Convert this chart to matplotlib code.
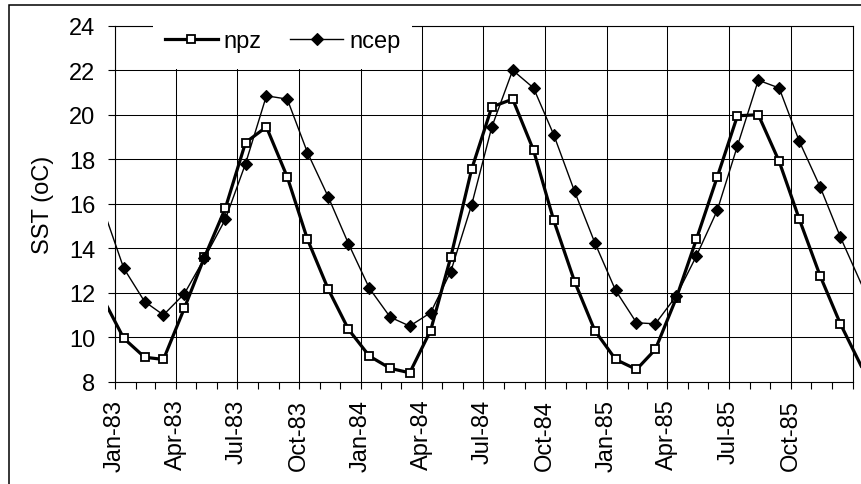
import matplotlib
matplotlib.use("Agg")
import matplotlib.pyplot as plt
import matplotlib.dates as mdates
from matplotlib.patches import Rectangle
from matplotlib.transforms import blended_transform_factory
import pandas as pd

# monthly SST, Dec-82 .. Jan-86 (first and last point fall just outside the axis)
months = pd.date_range("1982-12-01", periods=38, freq="MS") + pd.Timedelta(days=13)

npz = [11.75, 9.95, 9.1, 9.0, 11.3, 13.6, 15.8, 18.75, 19.45, 17.2, 14.4, 12.15, 10.35,
       9.15, 8.6, 8.4, 10.3, 13.6, 17.55, 20.35, 20.7, 18.4, 15.25, 12.5, 10.3,
       9.0, 8.55, 9.45, 11.75, 14.4, 17.2, 19.95, 20.0, 17.9, 15.3, 12.75, 10.6, 8.7]

ncep = [15.8, 13.1, 11.6, 11.0, 11.95, 13.55, 15.3, 17.8, 20.85, 20.7, 18.3, 16.3, 14.2,
        12.2, 10.9, 10.5, 11.1, 12.95, 15.95, 19.45, 22.0, 21.2, 19.1, 16.55, 14.25,
        12.1, 10.65, 10.6, 11.85, 13.65, 15.7, 18.6, 21.55, 21.2, 18.8, 16.75, 14.5, 12.4]

y_ticks = [8, 10, 12, 14, 16, 18, 20, 22, 24]
quarters = pd.date_range("1983-01-01", "1985-10-01", freq="QS")

plt.rcParams["font.family"] = ["Liberation Sans", "DejaVu Sans"]

fig = plt.figure(figsize=(8.61, 4.85), dpi=100)
ax = fig.add_axes([115 / 861, 1 - 382.7 / 485, 737.5 / 861, 356 / 485])

# lines run a little past the plot area, as in the original chart
clip = Rectangle((-0.0095, -0.2), 1.2, 1.4, transform=ax.transAxes, visible=False)
ax.add_patch(clip)

l1, = ax.plot(months, npz, color="black", lw=2.3, marker="s", ms=6.3,
              mfc="white", mec="black", mew=1.3, markevery=slice(1, -1),
              label="npz", zorder=4)
l2, = ax.plot(months, ncep, color="black", lw=1.0, marker="D", ms=6,
              mfc="black", mec="black", mew=0.8, markevery=slice(1, -1),
              label="ncep", zorder=4)
for ln in (l1, l2):
    ln.set_clip_path(clip)

ax.set_xlim(pd.Timestamp("1983-01-01"), pd.Timestamp("1986-01-01"))
ax.set_ylim(8, 24)
ax.set_yticks(y_ticks)

ax.set_xticks(quarters)
ax.xaxis.set_minor_locator(mdates.MonthLocator())
ax.xaxis.set_major_formatter(mdates.DateFormatter("%b-%y"))

ax.tick_params(axis="x", which="both", direction="out", length=4.7, width=0.8,
               labelsize=17, pad=7.5, labelrotation=90)
ax.tick_params(axis="y", direction="out", length=5, width=0.8, labelsize=17, pad=9)
ax.set_ylabel("SST (oC)", fontsize=17, labelpad=11)

ax.grid(True, which="major", color="black", lw=0.75)
for s in ax.spines.values():
    s.set_linewidth(0.8)

# white box behind the legend hides the gridlines there
trans = blended_transform_factory(ax.transAxes, ax.transData)
ax.add_patch(Rectangle((0.0515, 22.06), 0.351, 2.2, transform=trans,
                       facecolor="white", edgecolor="none", zorder=2.6, clip_on=False))

ax.legend(loc="center", bbox_to_anchor=(0.227, 0.957), ncol=2, frameon=False,
          fontsize=17, handlelength=2.25, handletextpad=0.25, columnspacing=1.2)

# chart-area border (only top and left edges fall inside the image)
fig.add_artist(Rectangle((9 / 861, -0.2), 1.5, 1.2 - 6 / 485, transform=fig.transFigure,
                         fill=False, edgecolor="black", lw=1.1))

fig.savefig("out.png", dpi=100)
